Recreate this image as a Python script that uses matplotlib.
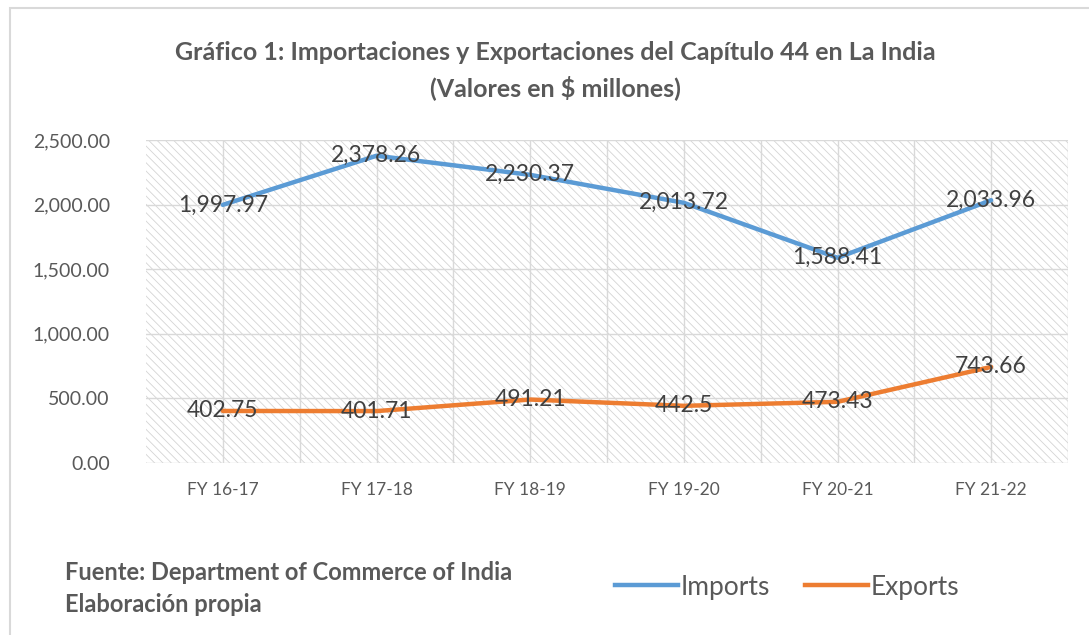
import matplotlib.pyplot as plt
from matplotlib.patches import Rectangle
from matplotlib.lines import Line2D
import matplotlib.ticker as mticker

years = ['FY 16-17', 'FY 17-18', 'FY 18-19', 'FY 19-20', 'FY 20-21', 'FY 21-22']
imports = [1997.97, 2378.26, 2230.37, 2013.72, 1588.41, 2033.96]
exports = [402.75, 401.71, 491.21, 442.5, 473.43, 743.66]
import_labels = ['1,997.97', '2,378.26', '2,230.37', '2,013.72', '1,588.41', '2,033.96']
export_labels = ['402.75', '401.71', '491.21', '442.5', '473.43', '743.66']

blue = '#5B9BD5'
orange = '#ED7D31'
grey_txt = '#595959'

plt.rcParams['font.family'] = ['Lato', 'DejaVu Sans']
plt.rcParams['hatch.linewidth'] = 0.6
plt.rcParams['hatch.color'] = '#d4d4d4'

fig = plt.figure(figsize=(10.89, 6.35), dpi=100)
ax = fig.add_axes([146 / 1089, 1 - 463 / 635, 922 / 1089, 323 / 635])

x = list(range(len(years)))
ax.set_xlim(-0.5, len(years) - 0.5)
ax.set_ylim(0, 2500)

# hatched background of the plot area
ax.add_patch(Rectangle((0, 0), 1, 1, transform=ax.transAxes, facecolor='white',
                       edgecolor='#d4d4d4', hatch='\\\\\\\\', lw=0, zorder=0))

for v in range(0, 2501, 500):
    ax.axhline(v, color='#d9d9d9', lw=1, zorder=1)
for i in range(len(years)):
    ax.axvline(i, color='#d9d9d9', lw=1, zorder=1)
    ax.axvline(i + 0.5, color='#d9d9d9', lw=1, zorder=1)

ax.plot(x, imports, color=blue, lw=3.2, solid_capstyle='round', zorder=3)
ax.plot(x, exports, color=orange, lw=3.2, solid_capstyle='round', zorder=3)

for i in x:
    ax.text(i, imports[i], import_labels[i], ha='center', va='center',
            fontsize=16.5, color='#404040', zorder=4)
    ax.text(i, exports[i], export_labels[i], ha='center', va='center',
            fontsize=16.5, color='#404040', zorder=4)

ax.set_xticks(x)
ax.set_xticklabels(years)
ax.set_yticks(range(0, 2501, 500))
ax.yaxis.set_major_formatter(mticker.FuncFormatter(lambda v, p: f'{v:,.2f}'))
ax.tick_params(axis='y', length=0, pad=26, labelsize=14, labelcolor=grey_txt)
ax.tick_params(axis='x', length=0, pad=14, labelsize=12.5, labelcolor=grey_txt)
for s in ax.spines.values():
    s.set_visible(False)

fig.text(555 / 1089, 1 - 52 / 635, 'Gráfico 1: Importaciones y Exportaciones del Capítulo 44 en La India',
         ha='center', va='center', fontsize=18, color=grey_txt, fontweight='bold')
fig.text(555 / 1089, 1 - 88 / 635, '(Valores en $ millones)',
         ha='center', va='center', fontsize=18, color=grey_txt, fontweight='bold')

fig.text(65 / 1089, 1 - 573 / 635, 'Fuente: Department of Commerce of India',
         ha='left', va='center', fontsize=17, color=grey_txt, fontweight='bold')
fig.text(65 / 1089, 1 - 605 / 635, 'Elaboración propia',
         ha='left', va='center', fontsize=17, color=grey_txt, fontweight='bold')

handles = [Line2D([], [], color=blue, lw=3.2), Line2D([], [], color=orange, lw=3.2)]
fig.legend(handles, ['Imports', 'Exports'], loc='center', bbox_to_anchor=(787 / 1089, 1 - 587 / 635),
           ncol=2, frameon=False, fontsize=19, handlelength=2.4, handletextpad=0.1,
           columnspacing=1.3, labelcolor=grey_txt)

# outer frame
fig.add_artist(Rectangle((10 / 1089, -0.01), 1.2, 1 - 8 / 635 + 0.01, transform=fig.transFigure,
                         fill=False, edgecolor='#d9d9d9', lw=1.5))

fig.savefig('out.png', dpi=100)
